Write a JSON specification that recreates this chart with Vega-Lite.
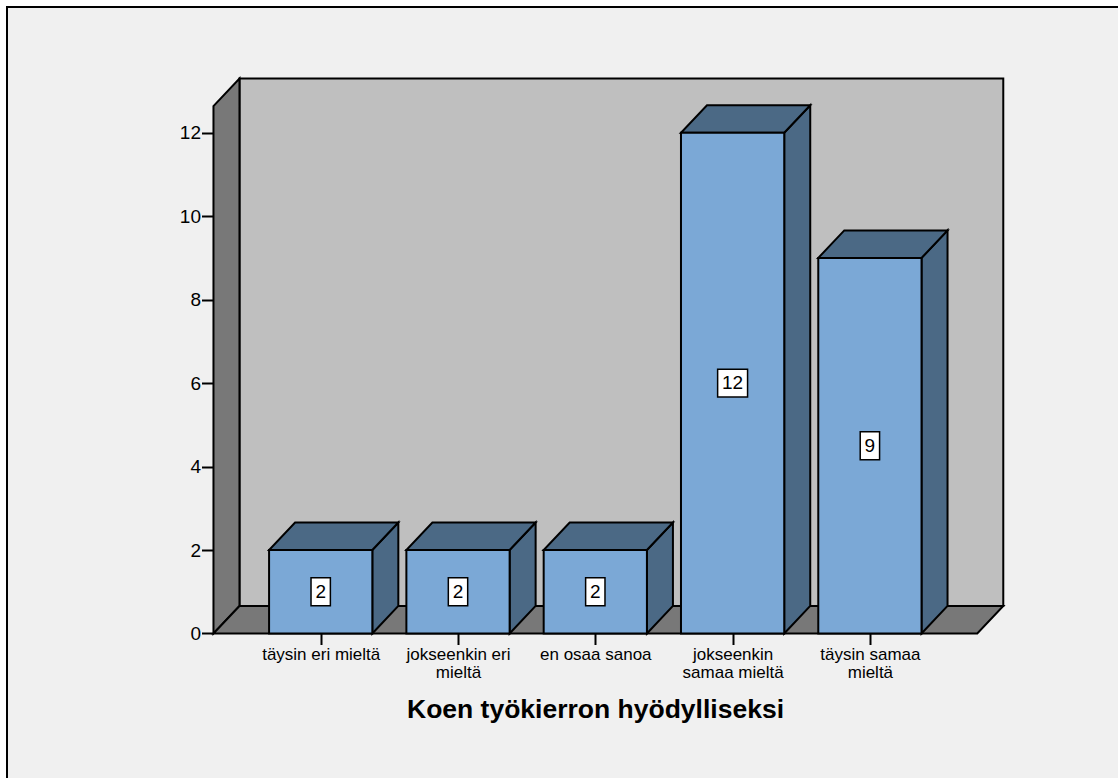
{
  "$schema": "https://vega.github.io/schema/vega-lite/v6.json",
  "width": 1116,
  "height": 776,
  "autosize": {"type": "none"},
  "padding": {"left": 7, "top": 7, "right": -5, "bottom": -5},
  "background": "#ffffff",
  "config": {
    "view": {"fill": "#f0f0f0", "stroke": "#000000", "strokeWidth": 2},
    "font": "Liberation Sans"
  },
  "params": [
    {"name": "depthX", "value": 0.1894},
    {"name": "depthY", "value": 0.66},
    {"name": "barHalf", "value": 0.376},
    {"name": "wallStart", "value": 0.219},
    {"name": "wallEnd", "value": 5.782},
    {"name": "wallTop", "value": 12.64}
  ],
  "datasets": {
    "answers": [
      {"position": 1, "answer": "täysin eri mieltä", "count": 2},
      {"position": 2, "answer": "jokseenkin eri mieltä", "count": 2},
      {"position": 3, "answer": "en osaa sanoa", "count": 2},
      {"position": 4, "answer": "jokseenkin samaa mieltä", "count": 12},
      {"position": 5, "answer": "täysin samaa mieltä", "count": 9}
    ],
    "backdrop": [{"panel": "chart frame"}]
  },
  "layer": [
    {
      "data": {"name": "backdrop"},
      "transform": [
        {"calculate": "wallStart + depthX", "as": "x0"},
        {"calculate": "wallEnd + depthX", "as": "x1"},
        {"calculate": "depthY", "as": "y0"},
        {"calculate": "wallTop + depthY", "as": "y1"}
      ],
      "mark": {"type": "rect", "fill": "#bfbfbf", "stroke": "#000000", "strokeWidth": 2},
      "encoding": {
        "x": {
          "field": "x0", "type": "quantitative",
          "scale": {"domain": [-1.2848, 6.8434], "nice": false, "zero": false},
          "axis": {
            "values": [1, 2, 3, 4, 5],
            "offset": -149.5,
            "orient": "bottom",
            "domain": false, "grid": false,
            "tickSize": 11, "tickWidth": 2, "tickColor": "#000000",
            "labelFontSize": 17, "labelColor": "#000000", "labelPadding": 2,
            "labelOverlap": false, "labelFlush": false, "labelLineHeight": 18,
            "labelExpr": "datum.value == 1 ? 'täysin eri mieltä' : datum.value == 2 ? ['jokseenkin eri', 'mieltä'] : datum.value == 3 ? 'en osaa sanoa' : datum.value == 4 ? ['jokseenkin', 'samaa mieltä'] : ['täysin samaa', 'mieltä']",
            "title": "Koen työkierron hyödylliseksi",
            "titleFontSize": 26.5, "titleFontWeight": "bold", "titleColor": "#000000",
            "titleX": 588, "titleY": 76, "titleBaseline": "middle", "titleAlign": "center"
          }
        },
        "x2": {"field": "x1"},
        "y": {
          "field": "y0", "type": "quantitative",
          "scale": {"domain": [-3.583, 15.013], "nice": false, "zero": false},
          "axis": {
            "values": [0, 2, 4, 6, 8, 10, 12],
            "offset": -206.5,
            "orient": "left",
            "domain": false, "grid": false,
            "tickSize": 12, "tickWidth": 2, "tickColor": "#000000",
            "labelFontSize": 19, "labelColor": "#000000", "labelPadding": 1,
            "labelOverlap": false,
            "title": null
          }
        },
        "y2": {"field": "y1"}
      }
    },
    {
      "data": {"name": "backdrop"},
      "transform": [
        {"calculate": "[wallStart, wallStart + depthX]", "as": "xs"},
        {"calculate": "[0, depthY]", "as": "lows"},
        {"calculate": "[wallTop, wallTop + depthY]", "as": "highs"},
        {"flatten": ["xs", "lows", "highs"], "as": ["xv", "low", "high"]}
      ],
      "mark": {"type": "area", "orient": "vertical", "fill": "#787878", "stroke": "#000000", "strokeWidth": 2},
      "encoding": {
        "x": {"field": "xv", "type": "quantitative", "scale": {"domain": [-1.2848, 6.8434], "nice": false, "zero": false}},
        "y": {"field": "low", "type": "quantitative", "stack": null, "scale": {"domain": [-3.583, 15.013], "nice": false, "zero": false}},
        "y2": {"field": "high"}
      }
    },
    {
      "data": {"name": "backdrop"},
      "transform": [
        {"calculate": "[wallStart, wallStart + depthX, wallEnd, wallEnd + depthX]", "as": "xs"},
        {"calculate": "[0, 0, 0, depthY]", "as": "lows"},
        {"calculate": "[0, depthY, depthY, depthY]", "as": "highs"},
        {"flatten": ["xs", "lows", "highs"], "as": ["xv", "low", "high"]}
      ],
      "mark": {"type": "area", "orient": "vertical", "fill": "#787878", "stroke": "#000000", "strokeWidth": 2},
      "encoding": {
        "x": {"field": "xv", "type": "quantitative", "scale": {"domain": [-1.2848, 6.8434], "nice": false, "zero": false}},
        "y": {"field": "low", "type": "quantitative", "stack": null, "scale": {"domain": [-3.583, 15.013], "nice": false, "zero": false}},
        "y2": {"field": "high"}
      }
    },
    {
      "data": {"name": "answers"},
      "transform": [
        {"calculate": "[datum.position + barHalf, datum.position + barHalf + depthX]", "as": "xs"},
        {"calculate": "[0, depthY]", "as": "lows"},
        {"calculate": "[datum.count, datum.count + depthY]", "as": "highs"},
        {"flatten": ["xs", "lows", "highs"], "as": ["xv", "low", "high"]}
      ],
      "mark": {"type": "area", "orient": "vertical", "fill": "#4b6985", "stroke": "#000000", "strokeWidth": 2},
      "encoding": {
        "x": {"field": "xv", "type": "quantitative", "scale": {"domain": [-1.2848, 6.8434], "nice": false, "zero": false}},
        "y": {"field": "low", "type": "quantitative", "stack": null, "scale": {"domain": [-3.583, 15.013], "nice": false, "zero": false}},
        "y2": {"field": "high"},
        "detail": {"field": "answer"}
      }
    },
    {
      "data": {"name": "answers"},
      "transform": [
        {"calculate": "[datum.position - barHalf, datum.position - barHalf + depthX, datum.position + barHalf, datum.position + barHalf + depthX]", "as": "xs"},
        {"calculate": "[datum.count, datum.count, datum.count, datum.count + depthY]", "as": "lows"},
        {"calculate": "[datum.count, datum.count + depthY, datum.count + depthY, datum.count + depthY]", "as": "highs"},
        {"flatten": ["xs", "lows", "highs"], "as": ["xv", "low", "high"]}
      ],
      "mark": {"type": "area", "orient": "vertical", "fill": "#4b6985", "stroke": "#000000", "strokeWidth": 2},
      "encoding": {
        "x": {"field": "xv", "type": "quantitative", "scale": {"domain": [-1.2848, 6.8434], "nice": false, "zero": false}},
        "y": {"field": "low", "type": "quantitative", "stack": null, "scale": {"domain": [-3.583, 15.013], "nice": false, "zero": false}},
        "y2": {"field": "high"},
        "detail": {"field": "answer"}
      }
    },
    {
      "data": {"name": "answers"},
      "transform": [
        {"calculate": "datum.position - barHalf", "as": "left"},
        {"calculate": "datum.position + barHalf", "as": "right"},
        {"calculate": "0", "as": "base"}
      ],
      "mark": {"type": "rect", "fill": "#7ba8d6", "stroke": "#000000", "strokeWidth": 2},
      "encoding": {
        "x": {"field": "left", "type": "quantitative", "scale": {"domain": [-1.2848, 6.8434], "nice": false, "zero": false}},
        "x2": {"field": "right"},
        "y": {"field": "count", "type": "quantitative", "stack": null, "scale": {"domain": [-3.583, 15.013], "nice": false, "zero": false}},
        "y2": {"field": "base"}
      }
    },
    {
      "data": {"name": "answers"},
      "transform": [
        {"calculate": "datum.count >= 10 ? 0.109 : 0.0705", "as": "boxHalf"},
        {"calculate": "datum.position - datum.boxHalf", "as": "left"},
        {"calculate": "datum.position + datum.boxHalf", "as": "right"},
        {"calculate": "datum.count / 2 - 0.335", "as": "low"},
        {"calculate": "datum.count / 2 + 0.335", "as": "high"}
      ],
      "mark": {"type": "rect", "fill": "#ffffff", "stroke": "#000000", "strokeWidth": 1.5},
      "encoding": {
        "x": {"field": "left", "type": "quantitative", "scale": {"domain": [-1.2848, 6.8434], "nice": false, "zero": false}},
        "x2": {"field": "right"},
        "y": {"field": "low", "type": "quantitative", "scale": {"domain": [-3.583, 15.013], "nice": false, "zero": false}},
        "y2": {"field": "high"}
      }
    },
    {
      "data": {"name": "answers"},
      "transform": [{"calculate": "datum.count / 2", "as": "middle"}],
      "mark": {"type": "text", "fontSize": 19, "color": "#000000", "align": "center", "baseline": "middle"},
      "encoding": {
        "x": {"field": "position", "type": "quantitative", "scale": {"domain": [-1.2848, 6.8434], "nice": false, "zero": false}},
        "y": {"field": "middle", "type": "quantitative", "scale": {"domain": [-3.583, 15.013], "nice": false, "zero": false}},
        "text": {"field": "count", "type": "quantitative"}
      }
    }
  ]
}
